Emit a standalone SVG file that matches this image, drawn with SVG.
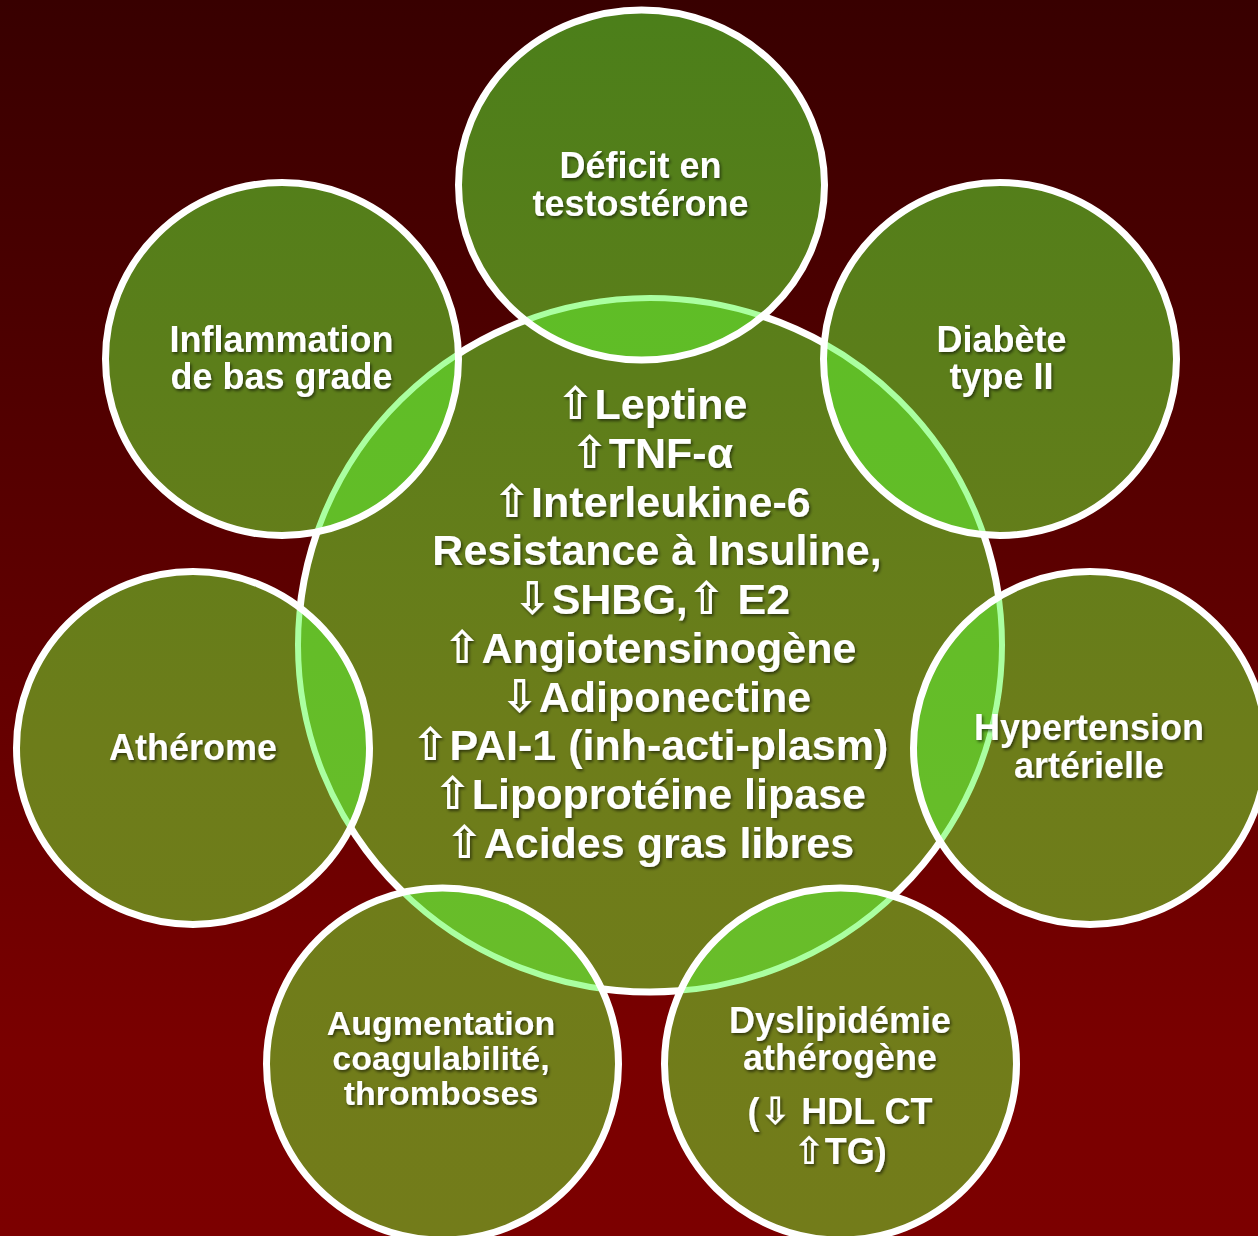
<svg xmlns="http://www.w3.org/2000/svg" width="1258" height="1236" viewBox="0 0 1258 1236">
<defs>
<linearGradient id="bg" x1="0" y1="0" x2="0" y2="1236" gradientUnits="userSpaceOnUse">
<stop offset="0" stop-color="#380000"/>
<stop offset="0.85" stop-color="#7a0000"/>
<stop offset="1" stop-color="#7c0000"/>
</linearGradient>
<linearGradient id="g" x1="0" y1="0" x2="0" y2="1236" gradientUnits="userSpaceOnUse">
<stop offset="0" stop-color="#4b7f1a"/>
<stop offset="0.6" stop-color="#6d7d1a"/>
<stop offset="1" stop-color="#737c1a"/>
</linearGradient>
<linearGradient id="lens" x1="0" y1="0" x2="0" y2="1236" gradientUnits="userSpaceOnUse">
<stop offset="0" stop-color="#5bbd25"/>
<stop offset="1" stop-color="#6cbd2b"/>
</linearGradient>
<clipPath id="cC"><ellipse cx="650" cy="645" rx="352" ry="347"/></clipPath>
<clipPath id="cT"><ellipse cx="641.5" cy="185" rx="183" ry="175"/></clipPath>
<clipPath id="cTL"><circle cx="282" cy="359" r="176.5"/></clipPath>
<clipPath id="cTR"><circle cx="1000" cy="359" r="176.5"/></clipPath>
<clipPath id="cL"><circle cx="193" cy="748" r="176.5"/></clipPath>
<clipPath id="cR"><circle cx="1090" cy="748" r="176.5"/></clipPath>
<clipPath id="cBL"><circle cx="442.5" cy="1064" r="176"/></clipPath>
<clipPath id="cBR"><circle cx="840.5" cy="1064" r="176"/></clipPath>
<filter id="sh" x="-10%" y="-30%" width="120%" height="160%">
<feDropShadow dx="1.5" dy="2" stdDeviation="1.5" flood-color="#000" flood-opacity="0.55"/>
</filter>
</defs>
<style>
.fill{fill:url(#g)}
.lens{fill:url(#lens)}
.ws{fill:none;stroke:#fff;stroke-width:7}
.gs{fill:none;stroke:#aaffa0;stroke-width:6}
text{font-family:"Liberation Sans",Arial,sans-serif;font-weight:bold;fill:#fff;text-anchor:middle;filter:url(#sh)}
.o{font-size:36px}
.o2{font-size:34px}
.c{font-size:43px}
.ar{font-family:"DejaVu Sans",sans-serif;font-size:1.05em;font-weight:bold}
</style>
<rect width="1258" height="1236" fill="url(#bg)"/>

<g id="center">
<ellipse class="fill" cx="650" cy="645" rx="352" ry="347"/>
<ellipse class="ws" cx="650" cy="645" rx="352" ry="347"/>
<text class="c" x="652" y="419"><tspan class="ar">⇧</tspan>Leptine</text>
<text class="c" x="652" y="468"><tspan class="ar">⇧</tspan>TNF-α</text>
<text class="c" x="652" y="517"><tspan class="ar">⇧</tspan>Interleukine-6</text>
<text class="c" x="657" y="565">Resistance à Insuline,</text>
<text class="c" x="652" y="614"><tspan class="ar">⇩</tspan>SHBG,<tspan class="ar">⇧</tspan> E2</text>
<text class="c" x="650" y="663"><tspan class="ar">⇧</tspan>Angiotensinogène</text>
<text class="c" x="656" y="712"><tspan class="ar">⇩</tspan>Adiponectine</text>
<text class="c" x="650" y="760"><tspan class="ar">⇧</tspan>PAI-1 (inh-acti-plasm)</text>
<text class="c" x="650" y="809"><tspan class="ar">⇧</tspan>Lipoprotéine lipase</text>
<text class="c" x="650" y="858"><tspan class="ar">⇧</tspan>Acides gras libres</text>
</g>

<g id="node-top">
<ellipse class="fill" cx="641.5" cy="185" rx="183" ry="175"/>
<ellipse class="lens" cx="641.5" cy="185" rx="183" ry="175" clip-path="url(#cC)"/>
<ellipse class="gs" cx="650" cy="645" rx="352" ry="347" clip-path="url(#cT)"/>
<ellipse class="ws" cx="641.5" cy="185" rx="183" ry="175"/>
<text class="o" x="640.5" y="178">Déficit en</text>
<text class="o" x="640.5" y="216">testostérone</text>
</g>

<g id="node-top-left">
<circle class="fill" cx="282" cy="359" r="176.5"/>
<circle class="lens" cx="282" cy="359" r="176.5" clip-path="url(#cC)"/>
<ellipse class="gs" cx="650" cy="645" rx="352" ry="347" clip-path="url(#cTL)"/>
<circle class="ws" cx="282" cy="359" r="176.5"/>
<text class="o" x="281.5" y="352">Inflammation</text>
<text class="o" x="281.5" y="389">de bas grade</text>
</g>

<g id="node-top-right">
<circle class="fill" cx="1000" cy="359" r="176.5"/>
<circle class="lens" cx="1000" cy="359" r="176.5" clip-path="url(#cC)"/>
<ellipse class="gs" cx="650" cy="645" rx="352" ry="347" clip-path="url(#cTR)"/>
<circle class="ws" cx="1000" cy="359" r="176.5"/>
<text class="o" x="1001.5" y="352">Diabète</text>
<text class="o" x="1001.5" y="389">type II</text>
</g>

<g id="node-left">
<circle class="fill" cx="193" cy="748" r="176.5"/>
<circle class="lens" cx="193" cy="748" r="176.5" clip-path="url(#cC)"/>
<ellipse class="gs" cx="650" cy="645" rx="352" ry="347" clip-path="url(#cL)"/>
<circle class="ws" cx="193" cy="748" r="176.5"/>
<text class="o" x="193" y="760">Athérome</text>
</g>

<g id="node-right">
<circle class="fill" cx="1090" cy="748" r="176.5"/>
<circle class="lens" cx="1090" cy="748" r="176.5" clip-path="url(#cC)"/>
<ellipse class="gs" cx="650" cy="645" rx="352" ry="347" clip-path="url(#cR)"/>
<circle class="ws" cx="1090" cy="748" r="176.5"/>
<text class="o" x="1089" y="740">Hypertension</text>
<text class="o" x="1089" y="778">artérielle</text>
</g>

<g id="node-bottom-left">
<circle class="fill" cx="442.5" cy="1064" r="176"/>
<circle class="lens" cx="442.5" cy="1064" r="176" clip-path="url(#cC)"/>
<ellipse class="gs" cx="650" cy="645" rx="352" ry="347" clip-path="url(#cBL)"/>
<circle class="ws" cx="442.5" cy="1064" r="176"/>
<text class="o2" x="441" y="1035">Augmentation</text>
<text class="o2" x="441" y="1070">coagulabilité,</text>
<text class="o2" x="441" y="1105">thromboses</text>
</g>

<g id="node-bottom-right">
<circle class="fill" cx="840.5" cy="1064" r="176"/>
<circle class="lens" cx="840.5" cy="1064" r="176" clip-path="url(#cC)"/>
<ellipse class="gs" cx="650" cy="645" rx="352" ry="347" clip-path="url(#cBR)"/>
<circle class="ws" cx="840.5" cy="1064" r="176"/>
<text class="o" x="840" y="1033">Dyslipidémie</text>
<text class="o" x="840" y="1070">athérogène</text>
<text class="o" x="840" y="1124">(<tspan class="ar">⇩</tspan> HDL CT</text>
<text class="o" x="840" y="1164"><tspan class="ar">⇧</tspan>TG)</text>
</g>

<g id="connectors"/>
</svg>
